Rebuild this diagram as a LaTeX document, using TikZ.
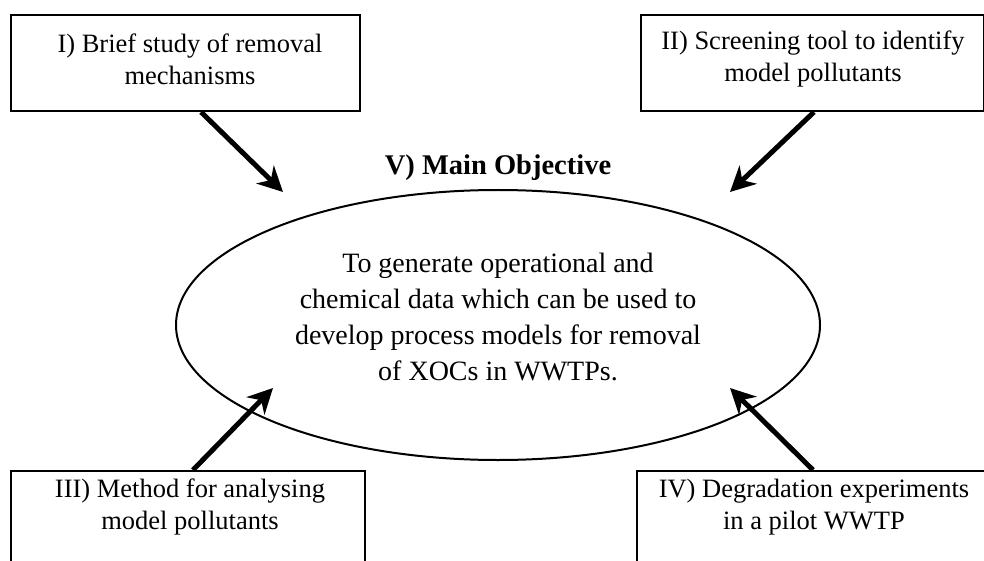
\documentclass[tikz,border=0pt]{standalone}
\usepackage{fontspec}
\setmainfont{LiberationSerif}[Extension=.ttf, UprightFont=*-Regular, BoldFont=*-Bold, ItalicFont=*-Italic, BoldItalicFont=*-BoldItalic]
\usetikzlibrary{arrows.meta,shapes.geometric}
\begin{document}
\begin{tikzpicture}[x=1pt,y=-1pt,
  box/.style={draw, line width=2pt, rectangle, inner sep=0pt, anchor=north west},
  boxtext/.style={align=center, font=\rmfamily\fontsize{26.5}{32}\selectfont, inner sep=0pt},
  objshape/.style={draw, ellipse, line width=2pt, inner sep=0pt, minimum width=644pt, minimum height=270pt},
  objtext/.style={align=center, font=\rmfamily\fontsize{28}{35.7}\selectfont, inner sep=0pt},
  titletext/.style={font=\rmfamily\fontsize{28.5}{34}\selectfont\bfseries, inner sep=0pt},
  arr/.style={line width=5pt, -{Stealth[length=25pt,width=25pt,inset=8pt]}}
]
\useasboundingbox (0,0) rectangle (984,561);
\clip (0,0) rectangle (984,561);

% boxes
\node[box, minimum width=349pt, minimum height=96pt] (b1) at (10,14) {};
\node[box, minimum width=343pt, minimum height=96pt] (b2) at (640,14) {};
\node[box, minimum width=354pt, minimum height=130pt] (b3) at (10,470) {};
\node[box, minimum width=354pt, minimum height=130pt] (b4) at (636,470) {};

\node[boxtext] (t1) at (190,59) {I) Brief study of removal\\mechanisms};
\node[boxtext] (t2) at (813,59) {II) Screening tool to identify\\model pollutants};
\node[boxtext] (t3) at (190,507) {III) Method for analysing\\model pollutants};
\node[boxtext] (t4) at (814,507) {IV) Degradation experiments\\in a pilot WWTP};

% main objective
\node[objshape] (obj) at (498,325) {};
\node[objtext] (ot) at (498,317) {To generate operational and\\chemical data which can be used to\\develop process models for removal\\of XOCs in WWTPs.};
\node[titletext] (title) at (498,168) {V) Main Objective};

% arrow tips
\coordinate (e1) at (283,192);
\coordinate (e2) at (730,192);
\coordinate (e3) at (273,388);
\coordinate (e4) at (730,388);

\draw[arr] ([xshift=15.5pt]b1.south) -- (e1);
\draw[arr] ([xshift=1.5pt]b2.south) -- (e2);
\draw[arr] ([xshift=5pt]b3.north) -- (e3);
\draw[arr] ([xshift=-1pt]b4.north) -- (e4);
\end{tikzpicture}
\end{document}
